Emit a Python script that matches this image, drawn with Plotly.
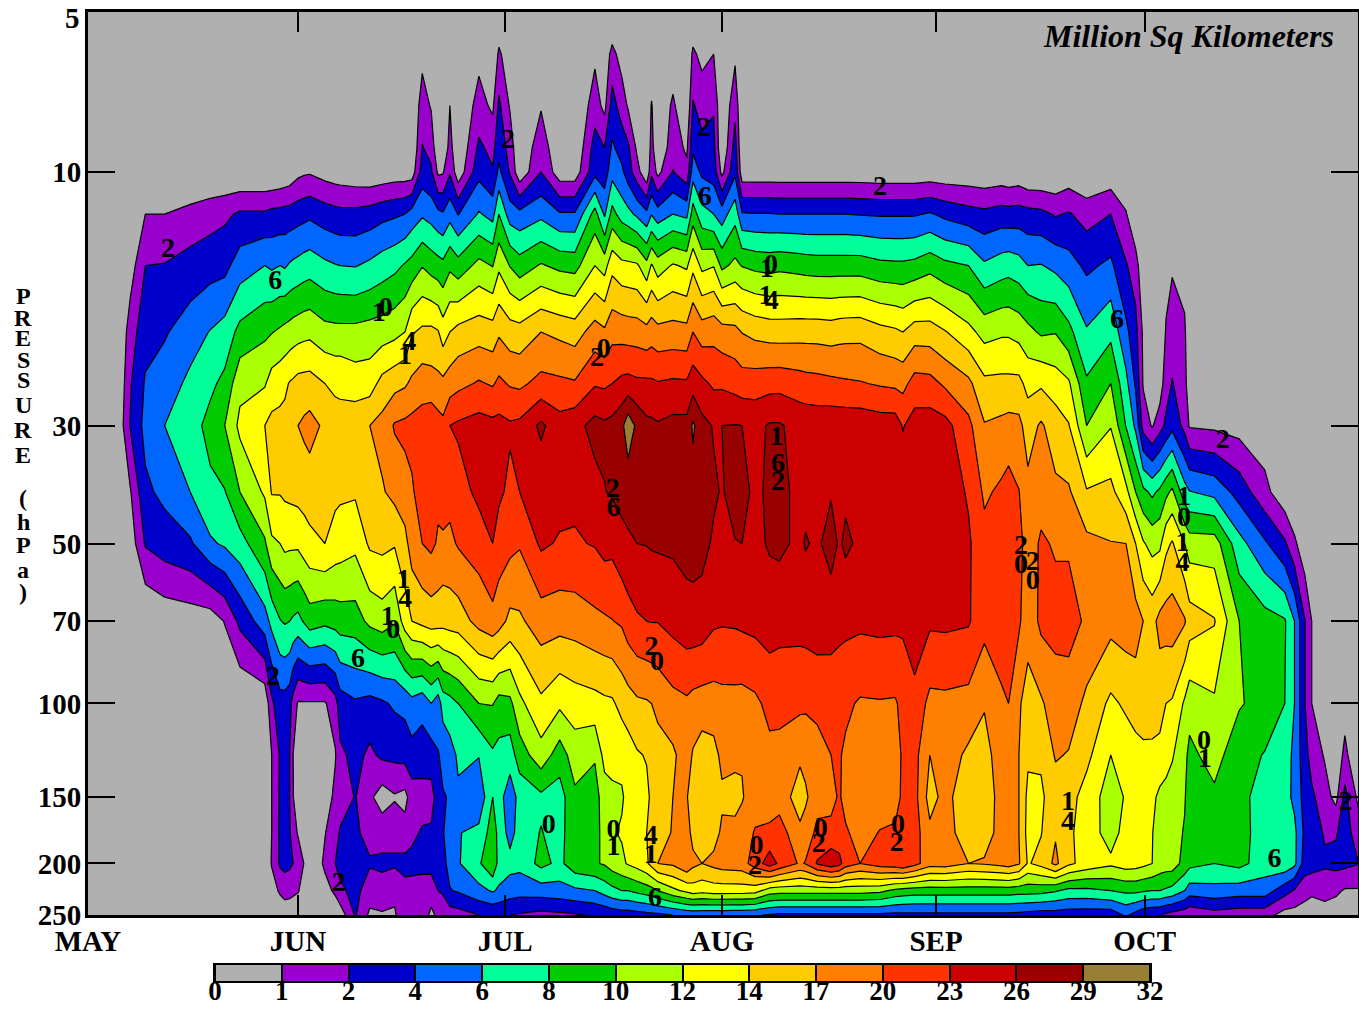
import numpy as np
import plotly.graph_objects as go

# contour levels and colours (million sq km)
LEVELS = [0, 1, 2, 4, 6, 8, 10, 12, 14, 17, 20, 23, 26, 29, 32]
COLORS = ["#b0b0b0", "#9900cc", "#0000cc", "#0066ff", "#00ff99", "#00cc00", "#aaff00",
          "#ffff00", "#ffcc00", "#ff8000", "#ff3300", "#cc0000", "#990000", "#997f33"]

MONTHS = ["MAY", "JUN", "JUL", "AUG", "SEP", "OCT"]
MONTH_DAYS = [0, 30.4, 60.4, 91.8, 122.8, 153]
PRESSURE_TICKS = [5, 10, 30, 50, 70, 100, 150, 200, 250]
PRESSURE_TICK_TEXT = ["", "10", "30", "50", "70", "100", "150", "200", "250"]

# pressure levels (hPa) of each profile value
PRESSURES = [5, 6, 7.5, 9, 10, 12, 15, 20, 25, 30, 40, 50, 70, 100, 125, 150, 175, 200, 225, 250]

# days since 1 May of each profile
DAYS = [0, 4.9, 6.1, 8.3, 11.1, 14.8, 17.7, 19.8, 22, 25.6, 26.6, 27.8, 28.5, 29.2, 29.7, 30.4, 31.3, 32.1,
        34.3, 35.8, 36.5, 38.7, 40.8, 42.6, 44.4, 45.9, 46.9, 48.4, 49.7, 50.7, 51.4, 52.4, 53.6, 56.6,
        58.6, 59.5, 61.1, 62.5, 65.6, 68.3, 70.5, 73.4, 74.8, 75.9, 77.3, 78.2, 79.5, 80.9, 81.6, 82.5,
        84.7, 86.7, 87.6, 88.9, 90.6, 91.8, 93.7, 94.7, 96.6, 98.7, 100.1, 103.1, 103.9, 105.6, 107.6, 108.8,
        109.7, 111.8, 114.7, 116.9, 118, 119.7, 121.9, 124.1, 127.5, 129.8, 132.3, 133.3, 134.8, 136.1,
        138, 140.1, 142, 144.6, 148.1, 150.3, 151.7, 152.8, 154.1, 155.2, 156.1, 157, 158.8, 159.5, 163.1,
        166.7, 170.4, 173.3, 174.7, 176.2, 177.2, 179.1, 180.7, 182, 183.9]

c000 = [0]*20
c001 = [0,0,0,0,0,0,0,.4,.6,.8,.3,0,0,0,0,0,0,0,0,0]
c002 = [0,0,0,0,0,0,.5,1.5,1.9,2.1,.9,.4,0,0,0,0,0,0,0,0]
c003 = [0,0,0,0,0,1,2,3.3,4.2,4.6,3.6,2.2,0,0,0,0,0,0,0,0]
c004 = [0,0,0,0,.3,1,2.1,3.8,4.9,6,4.5,3,.33,0,0,0,0,0,0,0]
c005 = [0,0,0,0,0,1.3,2.8,5,6.5,7.2,6,3.7,.45,0,0,0,0,0,0,0]
c006 = [0,0,0,0,0,1.6,3.2,6.1,7.6,8.6,7.6,5.7,.46,0,0,0,0,0,0,0]
c007 = [0,0,0,0,0,1.8,3.4,6.8,8.5,10,7.9,6.3,1.05,0,0,0,0,0,0,0]
c008 = [0,0,0,0,0,2.3,5,8.6,11.4,12.5,10,7.2,2.5,0,0,0,0,0,0,0]
c009 = [0,0,0,0,0,2.3,6,9.6,11.8,14,12.3,9.7,5.1,.2,0,0,0,0,0,0]
c010 = [0,0,0,0,0,2.6,5.7,9.9,12.9,14.8,14.2,11.6,6.6,1.8,1,1,1,1.1,.4,0]
c011 = [0,0,0,0,.1,2.7,6,10.3,13.3,14.9,14.2,12,7.9,3.2,2.2,2.3,2.4,2.3,1.2,0]
c012 = [0,0,0,0,.2,2.8,5.8,10.6,13.6,15,14.5,12.5,8.2,3.2,2.6,2.6,2.7,2.4,1.6,0]
c013 = [0,0,0,0,.3,2.9,6.2,10.8,14.2,15.7,14.7,12.4,8,2.8,2,2,2.2,2.3,1.5,0]
c014 = [0,0,0,0,.5,3,6.4,11,14.5,16.4,14.8,12.4,7.7,1.6,1,1.05,1.5,2,1.3,0]
c015 = [0,0,0,0,.73,3.2,6.6,11.2,15,17,15,12.4,7.4,.9,0,.3,.9,1.8,1.1,0]
c016 = [0,0,0,0,.85,3.4,6.9,11.4,15.1,17.6,15.2,13,8.2,.9,0,0,.5,.95,.5,0]
c017 = [0,0,0,0,.9,3.6,7.1,11.5,15.2,18,15.6,13.4,9,.9,0,0,0,0,0,0]
c018 = [0,0,0,0,.6,3,6.4,10.7,14,16.5,15,14,8.5,.9,0,.3,.95,1.2,.6,0]
c019 = [0,0,0,0,.45,2.7,6.1,10.6,13.6,15.3,14.7,13.2,8.8,1.6,.9,1.3,1.6,2,1.2,.2]
c020 = [0,0,0,0,.42,2.6,6,10.6,13.6,15,14.5,13,9,3,1.8,1.5,2.2,2.6,1.8,.4]
c021 = [0,0,0,0,.3,2.6,5.9,10.6,13,16,14.4,12.5,9.1,3.7,2.6,2.1,2.3,2.4,2.6,2.2]
c022 = [0,0,0,0,.19,2.9,6.4,10.8,13.1,17,16,14.5,10.5,3.3,1.8,1.2,1.7,2.2,1.5,.8]
c023 = [0,0,0,0,.3,3.4,7,11,15,18,16.7,14.8,11,3.7,2.4,.5,1.6,2.4,1.6,.9]
c024 = [0,0,0,0,.42,3.7,7.5,11.4,16,20.3,17.9,14.3,10.2,4.3,2.5,.9,1.7,2.3,1.2,.9]
c025 = [0,0,0,0,.42,4,8.2,12,16.6,20.7,18.9,16,13,4.6,2.7,.7,1.4,2.6,1.7,1.6]
c026 = [0,0,0,0,.44,4.8,8.7,13.8,17.6,21,19.6,18.5,14,5.3,3.3,1.5,1.8,2.5,1.7,1.4]
c027 = [0,.7,1.5,2.1,2.9,5.7,9.9,14.6,18.5,21.5,21.5,20,14.8,4.7,3,1.6,2.2,2.8,1.4,1.5]
c028 = [0,0,.9,1.7,2.3,5.2,9.2,14.7,18.2,22.2,20,20.7,15.3,6,3.1,1.6,2.3,2.8,1.4,.8]
c029 = [0,0,0,0,.8,4.5,8.8,14.2,17.9,21.2,20.7,19.6,15.3,4.9,3.9,3,3.5,3.5,2,1.2]
c030 = [0,0,0,0,.9,4.2,8.5,13,17.7,20.7,22,19.3,15,6.9,4.4,3.9,3.9,3.5,2.4,1]
c031 = [0,0,1,1.4,1.9,5.3,9.6,14,18.5,23,21,19.3,15.3,7.3,5.2,4.1,4.7,4.6,3.9,1.5]
c032 = [0,0,0,0,.31,3.9,8.8,15,19.2,23.5,21.6,20.3,15.5,8,6.3,5.7,5.9,5.8,4.2,1.6]
c033 = [0,.7,1.4,2.4,3.4,6.2,10.6,15.7,20.3,24.2,23.8,21.3,18,10,6.1,4.5,6.5,7.7,5.4,2]
c034 = [0,0,.8,1.7,2.2,5.3,9.9,15.3,19.7,23.8,24.5,23,19,10.1,7.7,8,9,9.8,6.2,2.3]
c035 = [0,1.2,2.4,3.3,4.5,8,11.6,16.6,20.6,23.9,23.6,21.5,18.3,9.2,7.4,6.8,7.4,7.2,5.7,2.2]
c036 = [0,.3,.9,1.6,1.9,5,9.9,15.4,19.7,23.4,22.3,20.9,16.2,9.5,7,4.8,5.2,6.7,5,2]
c037 = [0,0,0,0,.25,4.6,8.9,15.2,19.4,23.7,23,20.3,16.5,11.5,9,6.7,6.9,6.6,4.8,1.9]
c038 = [0,.3,.9,1.7,2,5.5,10.2,17,20.9,26.6,24,23.5,18.5,13.6,11.2,7.6,8.1,8.6,5,1.7]
c039 = [0,0,0,0,.41,4.2,9.5,16.3,20.6,24.2,24,22.7,18.2,12.4,9,7.1,7.2,7.5,5.2,1.8]
c040 = [0,0,0,0,.41,4.2,9.3,15.7,20.3,25,23.6,22.7,18.4,13,11,9.6,9.6,9.3,5.6,1.9]
c041 = [0,.8,1.5,2.9,3.4,8.8,12,18.3,22.7,27,25,23.2,19.3,13.3,10.2,9.2,9.5,9.8,6,2.2]
c042 = [0,.4,.7,2,2.9,5.7,11.2,17.5,22.5,26.5,25.9,24,19.6,13.6,12.7,11,10.5,10.2,6.8,2.4]
c043 = [0,1.3,2.9,4.3,5.3,8.7,13.4,19,23,26.9,26.3,23.8,19.9,13.7,12.3,11.8,11.8,11,7.4,2.8]
c044 = [0,.6,1.5,3.2,4.4,7.1,12.6,18.8,23.8,28.2,26.8,25.2,20.4,15,12.5,11.8,12.2,11.6,8,3]
c045 = [0,.3,.9,2.4,3,6.6,12.5,18.6,24,31,27,25.6,21.6,15.7,13,12.5,12.6,12.2,8,3]
c046 = [0,0,0,.8,1.4,5.6,12.3,18.5,23.6,28.3,27,26,22.6,16.5,13.8,13.3,13,12.8,8.5,3.2]
c047 = [0,0,0,0,.17,4.5,10.6,18,23.6,26.7,27.2,26.1,23,16.7,14.2,13.6,14,13.7,9,3.4]
c048 = [0,0,1.1,1.4,1.8,5.9,12.2,18.6,23.5,26.6,27.4,26.3,23.1,17,14.4,14.5,14.5,15,9.3,3.5]
c049 = [0,0,0,0,.7,4.9,11,18,23.2,26.3,27.2,26.4,23.1,17.6,16,16,16.4,17,10,3.6]
c050 = [0,.3,1.2,1.6,2.1,6,12.2,18.2,23.5,26.9,27.5,26.5,24,19,16.5,17,17.1,17.5,11.5,4]
c051 = [0,0,0,.8,1.3,5.5,11.7,18,23.4,26.9,27.6,27,24.8,19.5,18.5,17.2,18.3,19.5,12.5,4.5]
c052 = [0,1.2,2.2,3.6,5.1,9,13.5,20,24.7,29.5,27.7,27.1,24.9,19,16.7,15.5,16,17.8,13,4.6]
c053 = [0,.7,1.6,2.6,3.6,6.7,11.5,18.5,23.7,26.9,27.6,26.9,24.7,18.7,15.5,15,15.5,17,12.7,4.5]
c054 = [0,1,1.9,2.6,3.1,6,11.9,19,22.5,25.8,26.4,25.6,23.5,18.7,16,15.3,15.8,17.8,13,4.5]
c055 = [0,0,0,0,.7,5,9.5,18.3,22.5,26,25.8,25,23.3,19,17.7,16.5,17.5,18.3,13,4.5]
c056 = [0,.8,1.7,2.9,3.6,7.3,10.5,17.9,21.9,26.1,27,25.9,23.4,19,17.5,16.3,17.6,18.5,13,4.4]
c057 = [0,0,0,0,.35,4.2,9.9,16.9,21.4,26,27,26,23.6,18.9,17.2,16.8,18,18.7,13,4.4]
c058 = [0,0,0,0,.35,4.1,9.5,16.1,21.6,25.2,25.3,25.3,23.9,19.4,18,18.3,20.3,21.5,12.8,4.2]
c059 = [0,0,0,0,.35,4.1,9.3,15.7,21.9,26.3,26.6,26.3,24.4,20.8,19.3,18,20.8,24.5,11,3.8]
c060 = [0,0,0,0,.35,4,9.5,15.6,22,26.3,26.7,26.5,24.3,20.3,19.7,18.5,21.5,22.5,10.8,3.6]
c061 = [0,0,0,0,.35,4,9.2,15.8,21.4,25,25.3,25.5,24,20.7,17.5,15.7,17.6,19.6,10.8,3.6]
c062 = [0,0,0,0,.35,4,9.1,15.8,21.2,24.9,25.3,26.2,24.2,20.5,18,16.5,18.3,20.2,10.8,3.6]
c063 = [0,0,0,0,.35,4,9,15.8,21,24.8,25.3,25.6,24.6,20.7,19,18.9,20.7,23.3,10.8,3.6]
c064 = [0,0,0,0,.35,4,9,15.6,20.7,25,25.8,27,24.5,20.8,20,19,20.9,25,10.8,3.6]
c065 = [0,0,0,0,.35,4,9,15.9,20.5,25,25.5,25.7,24,20.7,20.2,20.4,21,24,10.8,3.6]
c066 = [0,0,0,0,.35,4,9,16,20.4,25,25.5,26.5,23.8,20.5,19.6,18.7,20.5,21.5,10.8,3.6]
c067 = [0,0,0,0,.35,3.9,9,16.1,20.2,25,25.5,25.5,23.6,19.7,18.2,17.2,18.5,20,10.8,3.6]
c068 = [0,0,0,0,.3,3.8,8.5,15,19.7,24.5,25.5,25.5,23.8,19.8,18.7,18,20.2,21.5,10.5,3.6]
c069 = [0,0,0,0,.3,3.8,8.4,14.5,19.4,24.5,25.4,25.4,23.7,19.7,18,18.7,20.5,22,9.5,3.5]
c070 = [0,0,0,0,.3,3.8,8.4,14,19.1,22.8,25,25.2,23.6,20.8,20.7,20.7,21.3,22.7,9.2,3.5]
c071 = [0,0,0,0,.3,3.8,8.6,15.5,21.2,24.3,25.4,25.5,24.9,22,21,21,21.3,21,9,3.5]
c072 = [0,0,0,0,.35,4.2,9.3,15.4,21,24.5,25.2,25.3,23.5,19.2,17,15.8,17.7,18.3,9,3.5]
c073 = [0,0,0,0,.3,3.5,8.5,14.2,19.5,24,24.6,24.7,23.6,19.3,18.5,18,18.2,18.5,9,3.5]
c074 = [0,0,0,0,.3,2.8,8,12.6,17.7,20.8,22.7,23.4,23.3,19,16.4,14.9,15.4,17,9,3.5]
c075 = [0,0,0,0,.2,2.5,6.3,11.3,14.7,17.2,19.5,21,21,17.3,15.6,15.1,15.8,17.3,9,3.5]
c076 = [0,0,0,0,.3,2.9,7,11.7,14.8,17.7,20.6,21.7,21.7,19.5,19,18.3,18,18,9,3.5]
c077 = [0,0,0,0,.2,2.8,7.2,11.7,14.8,18,21.3,22,22,20,18.5,18.6,18.3,18.5,9,3.5]
c078 = [0,0,0,0,.3,2.9,6.8,11.3,14.8,17.8,20.1,21,20.5,17.3,17,17,17,17.3,8.8,3.4]
c079 = [0,0,0,0,0,2.7,6,10.6,13.4,15.7,17.8,18.6,18,16,14.5,13.5,13.3,13.8,8.8,3.2]
c080 = [0,0,0,0,0,2.5,6.1,9.7,13.7,17.4,18.9,20.4,20.7,16.6,14.4,13.7,13.9,15,8.7,3]
c081 = [0,0,0,0,0,1.9,5.5,9.9,13,15.5,17.6,19.7,21,18.5,17.3,15.5,16.7,17.7,8.2,3]
c082 = [0,0,0,0,.3,2.2,4.8,8.6,12.3,14.2,17.4,19.7,21,18.7,16.8,15.1,14.6,14.6,7.5,2.9]
c083 = [0,0,0,0,0,1.6,3.6,6.2,8.3,10,14.3,17.8,19.6,16.3,14.8,13.2,13,13.3,7.5,2.8]
c084 = [0,0,0,0,.3,2,4.4,7.5,10,11.9,14.8,17.1,18,13.6,12,11,11.2,12.4,8,2.8]
c085 = [0,0,0,0,0,1.1,2.2,4.5,6.6,7.9,12.6,17,18.5,14.5,12.9,12.2,12.7,13,8.4,4.3]
c086 = [0,0,0,0,0,0,1.5,2.7,3.7,5.6,10,14,18.2,15.5,13.2,12.5,13,12.8,8.5,3.3]
c087 = [0,0,0,0,0,0,.1,.8,.9,1.6,8.5,12.2,17,15.4,13.6,12.8,12.7,12.5,8.2,2.5]
c088 = [0,0,0,0,0,0,0,0,0,.9,7.6,11.3,16,15,13.7,12.5,12.1,12,8,2.2]
c089 = [0,0,0,0,0,0,0,0,.4,1.6,8.4,11.5,18,15,13.5,11.5,10.8,11.2,8,2]
c090 = [0,0,0,0,0,0,.6,1.1,1.6,2.4,9.5,13.5,18.3,14,13.2,11,10.7,11,7.7,1.8]
c091 = [0,0,0,0,0,0,.87,1.6,2.1,3.4,10.4,14.3,18.5,13.8,12.2,11,11,11,7.4,1.6]
c092 = [0,0,0,0,0,0,.5,1.2,1.5,1.7,6.8,12,17.3,11.7,10.5,10.2,9.8,9.3,6,1.4]
c093 = [0,0,0,0,0,0,0,0,0,.9,6.1,11,15.5,10.8,9.5,8.8,8.8,8.6,5,1.2]
c094 = [0,0,0,0,0,0,0,0,0,.8,5.4,11,14.2,11.7,10.8,9.6,8.4,8,5.3,1.6]
c095 = [0,0,0,0,0,0,0,0,0,.6,3.2,6.7,10,10.2,8.7,8.7,8.8,8.6,5,1.4]
c096 = [0,0,0,0,0,0,0,0,0,.4,1.3,4.3,8.8,9.2,7.9,7,7,7,5,1.4]
c097 = [0,0,0,0,0,0,0,0,0,0,.3,2.3,8.2,8,7,6.8,7.3,7.5,2.8,.6]
c098 = [0,0,0,0,0,0,0,0,0,0,0,1.2,6,6,5.5,5.5,6.5,6.5,1.9,.6]
c099 = [0,0,0,0,0,0,0,0,0,0,0,.3,2.1,2.1,2.7,3.2,3.5,3,1.4,.5]
c100 = [0,0,0,0,0,0,0,0,0,0,0,0,1,1,1.6,2.4,2.9,2.9,1.2,.4]
c101 = [0,0,0,0,0,0,0,0,0,0,0,0,0,0,.9,1.4,1.9,2.3,1.4,.5]
c102 = [0,0,0,0,0,0,0,0,0,0,0,0,0,0,.2,.7,1.9,2.6,1.2,.4]
c103 = [0,0,0,0,0,0,0,0,0,0,0,0,0,.5,1.3,2.6,2.9,2.5,.9,.3]
c104 = [0,0,0,0,0,0,0,0,0,0,0,0,0,0,0,.8,1.5,2.1,.9,.3]

COLUMNS = [globals()[f"c{i:03d}"] for i in range(len(DAYS))]

# printed contour-label digits
LABEL_TEXT = ["2", "6", "1", "0", "4", "1", "2", "2", "6", "2", "0", "1", "1", "4", "0", "2", "6", "2",
              "2", "6", "1", "6", "2", "1", "0", "1", "4", "1", "4", "1", "0", "6", "2", "0",
              "2", "0", "2", "0", "2", "2", "0", "0", "1", "4", "1", "0", "2", "0", "2", "0", "2",
              "6", "1", "4", "0", "1", "6", "2"]
LABEL_DAY = [11.6, 27.1, 42.1, 43.1, 46.5, 45.9, 60.8, 89.2, 89.3, 114.7, 98.9, 98.3, 98.1, 99, 74.7, 73.7, 149, 164.3,
             76, 76.1, 99.7, 99.9, 99.9, 158.7, 158.7, 158.5, 158.5, 45.7, 45.9, 43.4, 44.2, 39.1, 81.6, 82.4,
             135.1, 135.1, 136.8, 136.8, 26.8, 36.3, 66.7, 76.1, 76.1, 81.5, 81.5, 96.8, 96.6, 106.1, 105.8, 117.3, 117.1,
             82.1, 141.9, 141.9, 161.6, 161.7, 171.8, 182.1]
LABEL_P = [14, 16.1, 18.5, 18.1, 21, 22.3, 8.75, 8.3, 11.2, 10.7, 15, 15.3, 17.2, 17.6, 21.6, 22.5, 19.1, 32.1,
           39.7, 43, 31.6, 35.6, 38.5, 41, 44.9, 50, 54.6, 58.7, 64, 68.9, 73.2, 83, 78.5, 83.8,
           50.7, 55.2, 54.3, 59.2, 89.7, 219, 170, 174, 187, 178, 194, 186, 203, 173, 185, 170, 184,
           233, 154, 168, 118, 128, 197, 154]

AXIS_LETTERS = list("PRESSURE") + list("(hPa)")
AXIS_LETTER_ROWS = [296, 318, 338, 360, 380, 405, 430, 455, 498, 522, 545, 570, 592]

z_real = np.array(COLUMNS, dtype=float).T
z_index = np.interp(z_real, LEVELS, np.arange(len(LEVELS)))
ylog = np.log10(PRESSURES)
scale = [[k / 13, c] for k, c in enumerate(COLORS)]
FONT = "Liberation Serif"
W, H = 1359, 1009

fig = go.Figure()
fig.add_trace(go.Contour(
    x=DAYS, y=ylog, z=z_index, colorscale=scale, autocontour=False, showscale=False,
    contours=dict(start=1, end=13, size=1, coloring="fill", showlines=True),
    line=dict(color="black", width=1.2, smoothing=0), hoverinfo="skip"))
fig.add_trace(go.Scatter(
    x=LABEL_DAY, y=np.log10(LABEL_P), text=LABEL_TEXT, mode="text", textposition="middle center",
    textfont=dict(family=FONT, size=28, color="black", weight=700), hoverinfo="skip", showlegend=False))
fig.add_trace(go.Heatmap(
    x=[i + 0.5 for i in range(14)], y=[0.5], z=[list(range(14))], colorscale=scale, zmin=0, zmax=13,
    showscale=False, xgap=2, xaxis="x2", yaxis="y2", hoverinfo="skip"))

annotations = [
    dict(text="Million Sq Kilometers", xref="paper", yref="paper", x=1336 / W, y=1 - 36 / H,
         xanchor="right", yanchor="middle", showarrow=False,
         font=dict(family=FONT, size=32, color="black", style="italic", weight=700)),
    dict(text="5", xref="paper", yref="paper", x=82 / W, y=1 - 18 / H, xanchor="right", yanchor="middle",
         showarrow=False, font=dict(family=FONT, size=29, color="black", weight=700)),
]
for ch, row in zip(AXIS_LETTERS, AXIS_LETTER_ROWS):
    annotations.append(dict(text=ch, xref="paper", yref="paper", x=23 / W, y=1 - row / H, xanchor="center",
                            yanchor="middle", showarrow=False,
                            font=dict(family=FONT, size=24, color="black", weight=700)))

tickfont = dict(family=FONT, size=29, color="black", weight=700)
fig.update_layout(
    width=W, height=H, margin=dict(l=0, r=0, t=0, b=0, autoexpand=False), autosize=False,
    paper_bgcolor="white", plot_bgcolor="black", showlegend=False, annotations=annotations,
    xaxis=dict(domain=[88 / W, 1358 / W], range=[0, 183.9], tickmode="array", tickvals=MONTH_DAYS, ticktext=MONTHS,
               ticks="inside", ticklen=20, tickwidth=1.5, tickcolor="black", showgrid=False, zeroline=False,
               showline=True, linecolor="black", linewidth=3, mirror="allticks", tickfont=tickfont,
               ticklabelstandoff=-2),
    yaxis=dict(domain=[1 - 915 / H, 1 - 12 / H], range=[np.log10(250) + 1e-5, np.log10(5) - 1e-5], tickmode="array",
               tickvals=list(np.log10(PRESSURE_TICKS)), ticktext=PRESSURE_TICK_TEXT,
               ticks="inside", ticklen=27, tickwidth=1.5, tickcolor="black", showgrid=False, zeroline=False,
               showline=True, linecolor="black", linewidth=3, mirror="allticks", tickfont=tickfont,
               ticklabelstandoff=-2),
    xaxis2=dict(domain=[215 / W, 1150 / W], anchor="y2", range=[0, 14], tickmode="array",
                tickvals=list(range(15)), ticktext=[str(v) for v in LEVELS], ticks="", showgrid=False,
                zeroline=False, showline=True, linecolor="black", linewidth=2, mirror=True,
                tickfont=dict(family=FONT, size=27, color="black", weight=700), ticklabelstandoff=-15),
    yaxis2=dict(domain=[1 - 981 / H, 1 - 965 / H], anchor="x2", range=[0, 1], showticklabels=False, ticks="",
                showgrid=False, zeroline=False, showline=True, linecolor="black", linewidth=2, mirror=True),
)
fig.write_html("out.html", config={"displayModeBar": False},
               post_script="document.body.style.margin='0';document.body.style.overflow='hidden';")
